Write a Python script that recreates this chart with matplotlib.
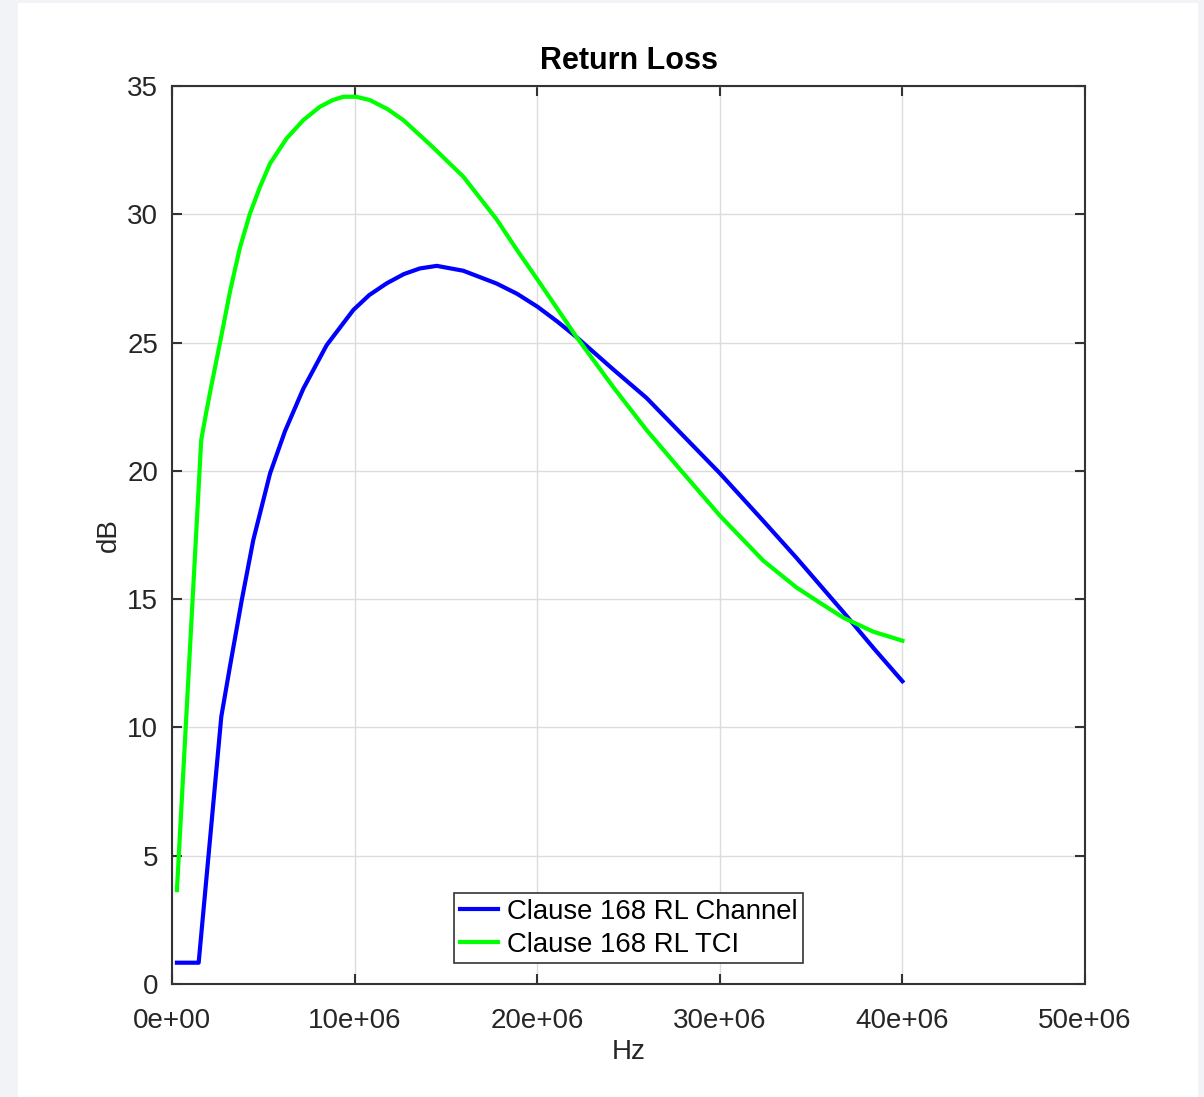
import matplotlib.pyplot as plt
from matplotlib.patches import Rectangle
from matplotlib.ticker import FuncFormatter

# frequency (Hz) and return loss (dB)
chan_f = [0.27e6, 1.46e6, 2.7e6, 3.18e6, 3.82e6, 4.45e6, 5.37e6, 6.19e6, 7.19e6,
          8.47e6, 9.93e6, 10.8e6, 11.76e6, 12.7e6, 13.58e6, 14.5e6, 15.95e6,
          17.78e6, 18.9e6, 20.03e6, 21.1e6, 22.16e6, 24.17e6, 25.99e6, 27.82e6,
          30.01e6, 32.38e6, 34.21e6, 36.76e6, 38.41e6, 40.0e6]
chan_rl = [0.83, 0.83, 10.42, 12.4, 14.96, 17.3, 19.9, 21.55, 23.2,
           24.9, 26.27, 26.85, 27.31, 27.67, 27.89, 27.99, 27.8,
           27.3, 26.9, 26.39, 25.82, 25.21, 23.95, 22.84, 21.5,
           19.9, 18.05, 16.6, 14.5, 13.1, 11.8]

tci_f = [0.27e6, 1.6e6, 1.88e6, 2.15e6, 2.63e6, 3.18e6, 3.72e6, 4.27e6, 4.82e6,
         5.37e6, 6.28e6, 7.19e6, 8.1e6, 8.8e6, 9.38e6, 10.1e6, 10.84e6, 11.8e6,
         12.67e6, 14.13e6, 15.95e6, 17.78e6, 18.9e6, 20.03e6, 22.16e6, 24.17e6,
         25.99e6, 27.82e6, 30.01e6, 32.38e6, 34.21e6, 35.5e6, 36.76e6, 38.41e6,
         40.0e6]
tci_rl = [3.66, 21.2, 22.3, 23.3, 25.0, 27.0, 28.7, 30.03, 31.07,
          31.98, 32.96, 33.67, 34.19, 34.45, 34.58, 34.58, 34.45, 34.1,
          33.67, 32.72, 31.47, 29.8, 28.6, 27.44, 25.21, 23.26,
          21.59, 20.06, 18.25, 16.5, 15.45, 14.85, 14.28, 13.73,
          13.38]

xticks = [0, 10e6, 20e6, 30e6, 40e6, 50e6]
yticks = [0, 5, 10, 15, 20, 25, 30, 35]

plt.rcParams['font.family'] = ['Liberation Sans', 'DejaVu Sans']

fig = plt.figure(figsize=(12.04, 10.97), dpi=100)
fig.patch.set_facecolor('#f2f3f6')
fig.patches.append(Rectangle((18 / 1204, 0), 1180 / 1204, 1094 / 1097,
                             transform=fig.transFigure, facecolor='white',
                             edgecolor='none', zorder=-10))

ax = fig.add_axes([172 / 1204, 113 / 1097, 913 / 1204, 898 / 1097])
ax.set_zorder(5)
ax.set_facecolor('white')

ax.plot(chan_f, chan_rl, color='#0000ff', lw=3, label='Clause 168 RL Channel',
        solid_joinstyle='round')
ax.plot(tci_f, tci_rl, color='#00ff00', lw=3, label='Clause 168 RL TCI',
        solid_joinstyle='round')

ax.set_xlim(0, 50e6)
ax.set_ylim(0, 35)
ax.set_xticks(xticks)
ax.set_yticks(yticks)
ax.xaxis.set_major_formatter(FuncFormatter(
    lambda v, p: '0e+00' if v == 0 else '%de+06' % round(v / 1e6)))

ax.grid(True, color='#dcdcdc', lw=1)
ax.set_axisbelow(True)
ax.tick_params(direction='in', length=7, width=1.5, top=True, right=True,
               labelsize=20, labelcolor='#262626', color='#333333')
ax.tick_params(axis='x', pad=17)
ax.tick_params(axis='y', pad=10)
for s in ax.spines.values():
    s.set_color('#333333')
    s.set_linewidth(1.5)

ax.set_title('Return Loss', fontsize=22, fontweight='bold', pad=12)
ax.set_xlabel('Hz', fontsize=20, color='#262626', labelpad=4)
ax.set_ylabel('dB', fontsize=20, color='#262626', labelpad=4)

leg = ax.legend(loc='lower center', bbox_to_anchor=(0.5, 0.023), fontsize=19.8,
                fancybox=False, framealpha=1, edgecolor='#333333',
                handlelength=1.4, handletextpad=0.3, labelspacing=0.25,
                borderpad=0.2, borderaxespad=0)
leg.get_frame().set_linewidth(1.2)

plt.savefig('out.png', dpi=100, facecolor=fig.get_facecolor())
